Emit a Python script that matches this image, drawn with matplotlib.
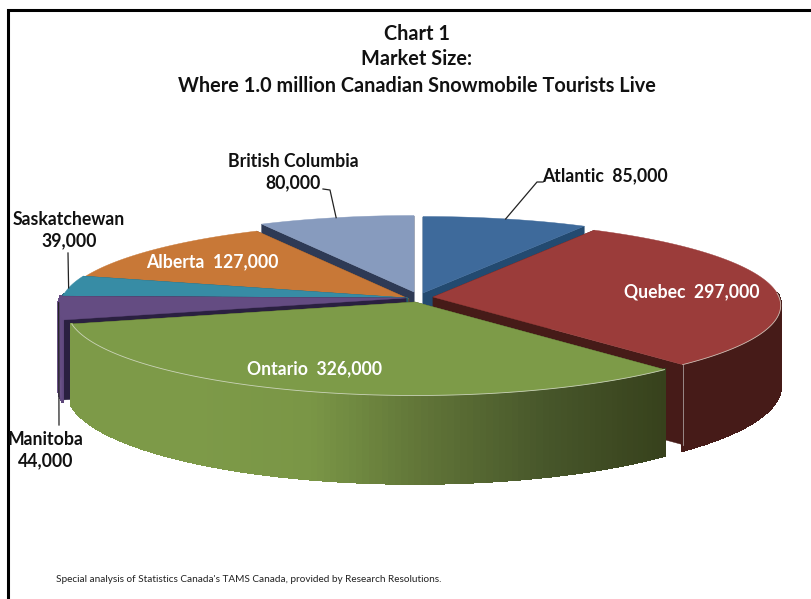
import numpy as np
import matplotlib
matplotlib.use("Agg")
import matplotlib.pyplot as plt
from matplotlib.colors import LinearSegmentedColormap

regions = ["Atlantic", "Quebec", "Ontario", "Manitoba", "Saskatchewan", "Alberta", "British Columbia"]
tourists = [85000, 297000, 326000, 44000, 39000, 127000, 80000]

title_lines = ["Chart 1", "Market Size:", "Where 1.0 million Canadian Snowmobile Tourists Live"]
source_note = "Special analysis of Statistics Canada's TAMS Canada, provided by Research Resolutions."

top_colors = {"Atlantic": "#3e6a9b", "Quebec": "#9b3c3a", "Ontario": "#7d9b48", "Manitoba": "#644c82",
              "Saskatchewan": "#378ca5", "Alberta": "#c87837", "British Columbia": "#879bbe"}
cut_colors = {"Atlantic": "#234a70", "Quebec": "#461b18", "Ontario": "#37411c", "Manitoba": "#2a2040",
              "Saskatchewan": "#205a6a", "Alberta": "#6e4220", "British Columbia": "#2e3a55"}
# outer wall shading, left to right across the slice
wall_stops = {"Atlantic": ["#2f5680", "#2f5680"], "Quebec": ["#461b18", "#461b18"],
              "Ontario": ["#7d9a48", "#7d9a48", "#7a9646", "#5f7337", "#47562a", "#37411c"],
              "Manitoba": ["#6e558c", "#5a4478"], "Saskatchewan": ["#2c7085", "#2c7085"],
              "Alberta": ["#9a5c2a", "#9a5c2a"], "British Columbia": ["#6a7a98", "#6a7a98"]}
# where each exploded slice has its tip, in pixels
tips = {"Atlantic": (423, 293), "Quebec": (433, 297), "Ontario": (415, 302), "Manitoba": (406, 298),
        "Saskatchewan": (408, 298), "Alberta": (409, 299), "British Columbia": (414, 292)}
draw_order = ["Atlantic", "British Columbia", "Alberta", "Saskatchewan", "Manitoba", "Quebec", "Ontario"]

RX = 346
RY = 85
PERSP = 0.10
DEPTH = 80

plt.rcParams["font.family"] = ["Lato", "DejaVu Sans"]
fig = plt.figure(figsize=(8.12, 5.99), dpi=100)
ax = fig.add_axes([0, 0, 1, 1])
ax.set_xlim(0, 812)
ax.set_ylim(599, 0)
ax.axis("off")

shares = np.array(tourists) / sum(tourists) * 2 * np.pi
ends = np.cumsum(shares)
starts = ends - shares
spans = {r: (s, e) for r, s, e in zip(regions, starts, ends)}


def project(region, ang, down=0.0):
    # clockwise from twelve o'clock, nearer points drawn a little larger
    u, v = np.sin(ang), np.cos(ang)
    s = 1 - PERSP * v
    tx, ty = tips[region]
    return tx + RX * u * s, ty - RY * v * s + down * s


def wall_quad(region, a0, a1):
    x0, y0 = project(region, a0)
    x1, y1 = project(region, a1)
    x2, y2 = project(region, a1, DEPTH)
    x3, y3 = project(region, a0, DEPTH)
    return [x0, x1, x2, x3], [y0, y1, y2, y3]


def cut_wall(region, ang):
    tx, ty = tips[region]
    ex, ey = project(region, ang)
    ax.fill([tx, ex, ex, tx], [ty, ey, ey + DEPTH, ty + DEPTH], color=cut_colors[region], lw=0.3)


for region in draw_order:
    a0, a1 = spans[region]
    cut_wall(region, a0)
    cut_wall(region, a1)

    angs = np.linspace(a0, a1, 120)
    xs = np.array([project(region, a)[0] for a in angs])
    cmap = LinearSegmentedColormap.from_list(region, wall_stops[region])
    span_x = max(xs.max() - xs.min(), 1)
    for a, b in zip(angs[:-1], angs[1:]):
        if np.cos((a + b) / 2) > 0.05:
            continue
        qx, qy = wall_quad(region, a, b)
        c = cmap((np.mean(qx) - xs.min()) / span_x)
        # no antialiasing here, it leaves seams between neighbouring strips
        ax.fill(qx, qy, color=c, lw=1.2, antialiased=False)

    ex, ey = zip(*[project(region, a) for a in angs])
    tx, ty = tips[region]
    ax.fill([tx, *ex], [ty, *ey], color=top_colors[region], lw=0.3)
    # light rim where the top meets the wall
    front = np.cos(angs) < 0.05
    if region in ("Quebec", "Ontario"):
        ax.plot(np.array(ex)[front], np.array(ey)[front], color="#dfe3d6", lw=0.6, alpha=0.8)

# corner highlight between Quebec's cut and its outer wall
qx, qy = project("Quebec", spans["Quebec"][1])
ax.plot([qx, qx], [qy, qy + DEPTH], color="#a89a98", lw=0.6)


def leader(region, frac, *points):
    a0, a1 = spans[region]
    sx, sy = project(region, a0 + frac * (a1 - a0))
    pts = [(sx, sy), *points]
    ax.plot([p[0] for p in pts], [p[1] for p in pts], color="#222222", lw=0.9)


leader("Atlantic", 0.5, (537, 182), (543, 182))
leader("British Columbia", 0.5, (330, 190), (323, 189))
leader("Saskatchewan", 0.4, (68, 253))
leader("Manitoba", 0.72, (59, 425))

# panel rule along the top and left only
ax.plot([8.5, 8.5, 812], [599, 10, 10], color="black", lw=2.2, solid_joinstyle="miter")

for y, line in zip([34, 59, 86], title_lines):
    ax.text(417, y, line, ha="center", va="center", fontsize=14.3, fontweight="bold", color="#111111")

by_region = dict(zip(regions, tourists))


def one_line(region):
    return f"{region}  {by_region[region]:,}"


def two_line(region):
    return f"{region}\n{by_region[region]:,}"


lab = dict(fontsize=12.7, fontweight="bold", ha="center", va="center")
ax.text(605, 176, one_line("Atlantic"), color="#111111", **lab)
ax.text(692, 292, one_line("Quebec"), color="white", **lab)
ax.text(315, 369, one_line("Ontario"), color="white", **lab)
ax.text(212, 262, one_line("Alberta"), color="white", **lab)
ax.text(293, 172, two_line("British Columbia"), color="#111111", linespacing=1.3, **lab)
ax.text(69, 230, two_line("Saskatchewan"), color="#111111", linespacing=1.3, **lab)
ax.text(46, 450, two_line("Manitoba"), color="#111111", linespacing=1.3, **lab)

ax.text(56, 580, source_note, fontsize=7.2, color="#222222", ha="left", va="center")

fig.savefig("out.png", dpi=100)
